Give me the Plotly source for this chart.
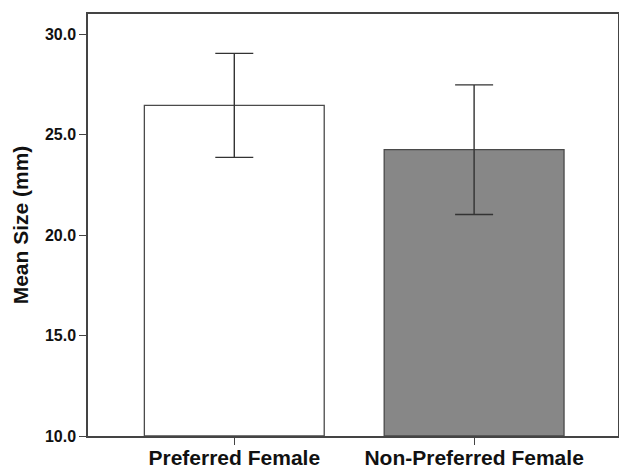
import plotly.graph_objects as go

categories = ["Preferred Female", "Non-Preferred Female"]
means = [26.47, 24.26]
errors = [2.59, 3.23]
bar_colors = ["#ffffff", "#878787"]

FONT = "Liberation Sans, Arial, sans-serif"

fig = go.Figure()
fig.add_trace(go.Bar(
    x=categories,
    y=[m - 10 for m in means],
    base=10,
    width=0.75,
    marker=dict(color=bar_colors, line=dict(color="#4a4a4a", width=1.3)),
    error_y=dict(type="data", array=errors, visible=True, color="#333333",
                 thickness=1.4, width=19),
    showlegend=False,
))

fig.update_layout(
    width=619, height=468,
    margin=dict(l=88, r=1, t=14, b=32),
    paper_bgcolor="white", plot_bgcolor="white",
    font=dict(family=FONT, color="#111111"),
    xaxis=dict(
        range=[-0.61, 1.60], automargin=False,
        showline=True, linecolor="#444444", linewidth=1.5, mirror=True,
        ticks="outside", ticklen=7, tickcolor="#444444", tickwidth=1.3,
        tickfont=dict(size=21, family=FONT, weight="bold"),
        ticklabelstandoff=-5,
        showgrid=False, zeroline=False,
    ),
    yaxis=dict(
        range=[10, 31.02], automargin=False,
        tickvals=[10, 15, 20, 25, 30],
        ticktext=["10.0", "15.0", "20.0", "25.0", "30.0"],
        showline=True, linecolor="#444444", linewidth=1.5, mirror=True,
        ticks="outside", ticklen=7, tickcolor="#444444", tickwidth=1.3,
        tickfont=dict(size=16, family=FONT, weight="bold"),
        showgrid=False, zeroline=False,
        title=dict(text="Mean Size (mm)", standoff=11,
                   font=dict(size=21, family=FONT, weight="bold")),
    ),
)

fig.write_html("out.html", config={"displayModeBar": False},
               post_script="document.body.style.margin='0';document.body.style.overflow='hidden';")
